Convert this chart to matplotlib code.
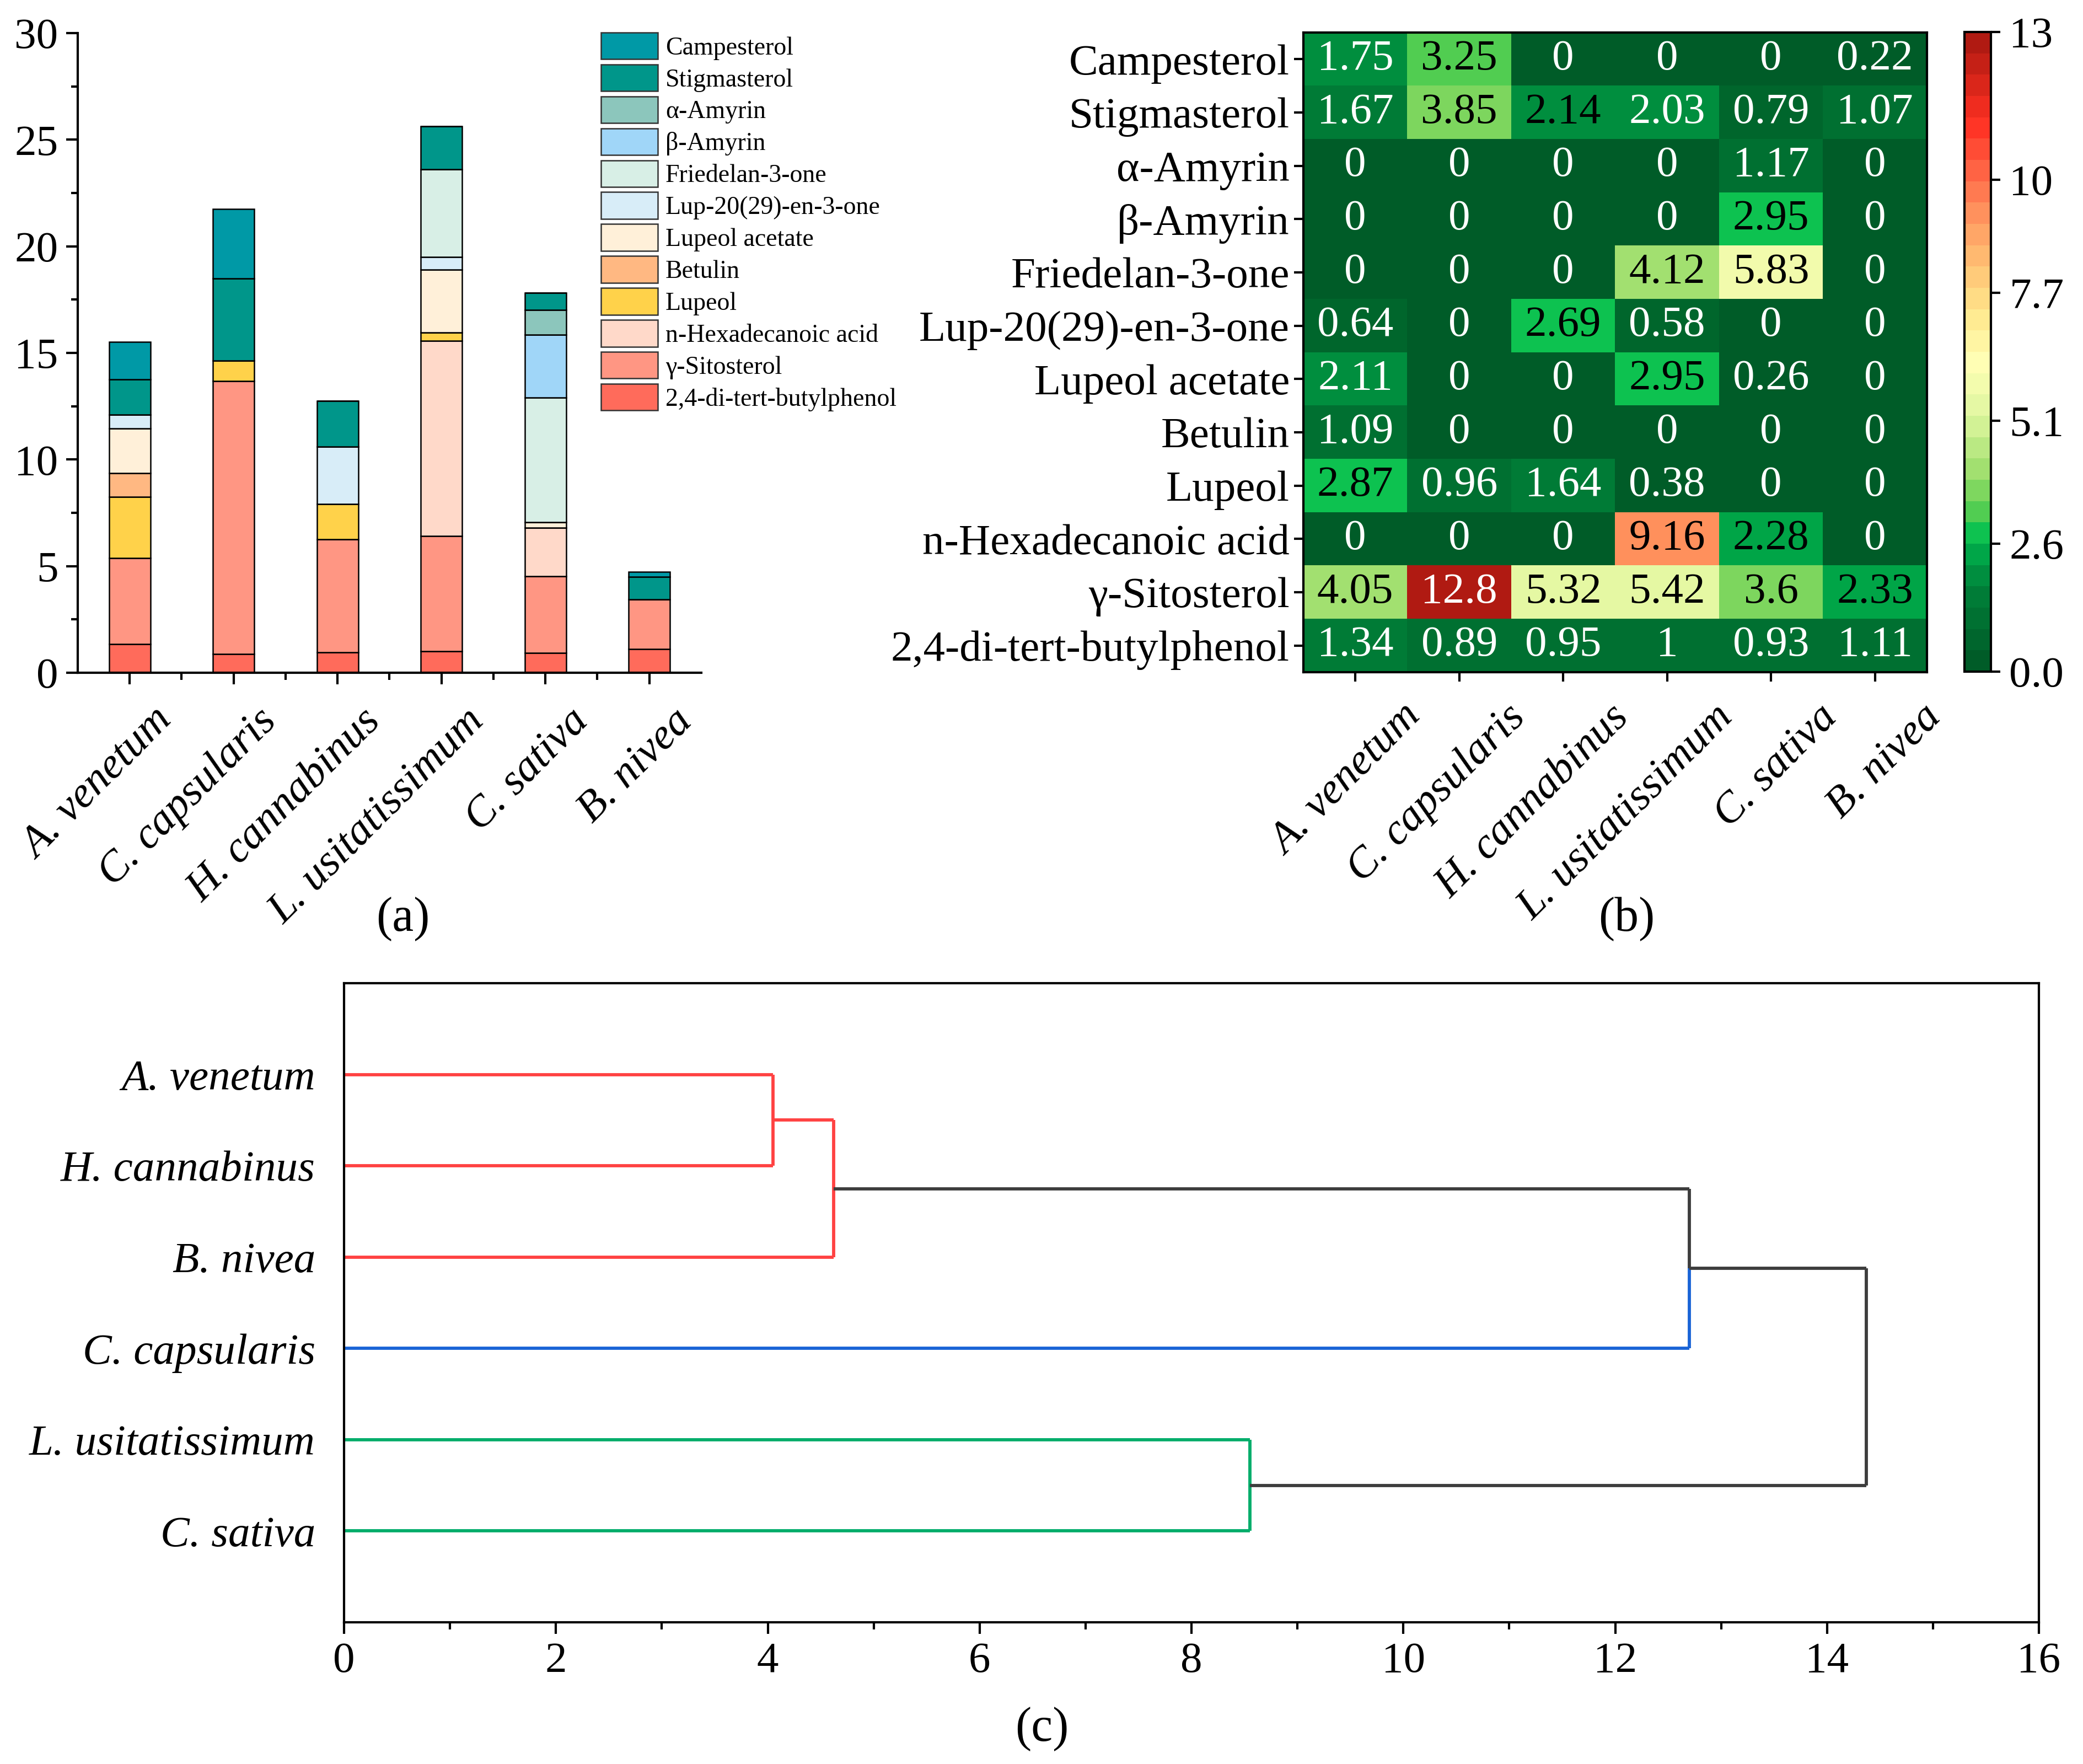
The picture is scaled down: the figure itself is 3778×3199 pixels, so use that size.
import numpy as np
import matplotlib
matplotlib.use('Agg')
import matplotlib.pyplot as plt
from matplotlib.colors import LinearSegmentedColormap
from matplotlib.patches import Patch
from matplotlib.ticker import MultipleLocator
import matplotlib.transforms as mtransforms

plt.rcParams['font.family'] = ['Liberation Serif', 'DejaVu Serif']

# ---------------- data ----------------
species = ['A. venetum', 'C. capsularis', 'H. cannabinus', 'L. usitatissimum', 'C. sativa', 'B. nivea']
compounds = ['Campesterol', 'Stigmasterol', 'α-Amyrin', 'β-Amyrin', 'Friedelan-3-one',
             'Lup-20(29)-en-3-one', 'Lupeol acetate', 'Betulin', 'Lupeol',
             'n-Hexadecanoic acid', 'γ-Sitosterol', '2,4-di-tert-butylphenol']
campesterol = [1.75, 3.25, 0, 0, 0, 0.22]
stigmasterol = [1.67, 3.85, 2.14, 2.03, 0.79, 1.07]
alpha_amyrin = [0, 0, 0, 0, 1.17, 0]
beta_amyrin = [0, 0, 0, 0, 2.95, 0]
friedelan = [0, 0, 0, 4.12, 5.83, 0]
lup20 = [0.64, 0, 2.69, 0.58, 0, 0]
lupeol_acetate = [2.11, 0, 0, 2.95, 0.26, 0]
betulin = [1.09, 0, 0, 0, 0, 0]
lupeol = [2.87, 0.96, 1.64, 0.38, 0, 0]
hexadecanoic = [0, 0, 0, 9.16, 2.28, 0]
sitosterol = [4.05, 12.8, 5.32, 5.42, 3.6, 2.33]
butylphenol = [1.34, 0.89, 0.95, 1, 0.93, 1.11]

bar_colors = ['#0099a6', '#00968a', '#8cc6bc', '#a0d6f8', '#d8efe6', '#d8edf8',
              '#fff0d9', '#ffb882', '#ffd24a', '#ffd9c9', '#ff9683', '#ff6b5b']

cbar_ticks = [0, 2.6, 5.1, 7.7, 10, 13]
cbar_ticklabels = ['0.0', '2.6', '5.1', '7.7', '10', '13']

# dendrogram (leaf order top->bottom, merges as in a linkage table)
dendro_leaves = ['A. venetum', 'H. cannabinus', 'B. nivea', 'C. capsularis', 'L. usitatissimum', 'C. sativa']
merge_a = [0, 6, 4, 7, 9]
merge_b = [1, 2, 5, 3, 8]
merge_h = [4.05, 4.62, 8.55, 12.70, 14.37]
RED, BLUE, GREEN, GREY = '#ff4242', '#1a64d6', '#00ad6a', '#3d3d3d'
branch_color = {0: RED, 1: RED, 2: RED, 3: BLUE, 4: GREEN, 5: GREEN,
                6: RED, 7: GREY, 8: GREY, 9: GREY}

data = np.array([campesterol, stigmasterol, alpha_amyrin, beta_amyrin, friedelan, lup20,
                 lupeol_acetate, betulin, lupeol, hexadecanoic, sitosterol, butylphenol])

# ---------------- figure ----------------
W, H = 3779, 3199
fig = plt.figure(figsize=(W / 300, H / 300), dpi=300)

def px_axes(x0, y0, x1, y1):
    return fig.add_axes([x0 / W, 1 - y1 / H, (x1 - x0) / W, (y1 - y0) / H])

TICK_FS = 19

# ---- panel (a) stacked bars ----
axa = px_axes(141, 60, 1272, 1220)
x = np.arange(len(species))
bottom = np.zeros(len(species))
handles = []
for i in range(len(compounds) - 1, -1, -1):
    axa.bar(x, data[i], 0.4, bottom=bottom, color=bar_colors[i], edgecolor='black', linewidth=0.6)
    bottom += data[i]
for i in range(len(compounds)):
    handles.append(Patch(facecolor=bar_colors[i], edgecolor='#333333', linewidth=0.6, label=compounds[i]))
axa.set_xlim(-0.5, 5.5)
axa.set_ylim(0, 30)
axa.yaxis.set_major_locator(MultipleLocator(5))
axa.yaxis.set_minor_locator(MultipleLocator(2.5))
axa.set_xticks(x)
axa.set_xticks(x[:-1] + 0.5, minor=True)
for s in ['top', 'right']:
    axa.spines[s].set_visible(False)
for s in ['left', 'bottom']:
    axa.spines[s].set_linewidth(1.0)
axa.tick_params(which='major', length=5, width=1.0, labelsize=TICK_FS, direction='out')
axa.tick_params(which='minor', length=3, width=1.0, direction='out')
axa.set_xticklabels(species, rotation=45, ha='right', va='top', rotation_mode='anchor',
                    fontstyle='italic')
off_a = mtransforms.ScaledTranslation(10 / 72, -4 / 72, fig.dpi_scale_trans)
for lab in axa.get_xticklabels():
    lab.set_transform(lab.get_transform() + off_a)

fig.legend(handles=handles, loc='upper left', bbox_to_anchor=(1090 / W, 1 - 59 / H),
           frameon=False, fontsize=11, handlelength=2.25, handleheight=1.25,
           labelspacing=0.18, handletextpad=0.3, borderpad=0, borderaxespad=0)

# ---- panel (b) heatmap ----
anchors = [
    (0.00, '#005c28'), (0.10, '#007a36'), (0.16, '#009a44'), (0.2, '#00c050'),
    (0.25, '#62d052'), (0.31, '#a2e070'), (0.40, '#e0f7a0'), (0.48, '#ffffb5'),
    (0.56, '#ffe98e'), (0.64, '#ffc274'), (0.71, '#ff9a62'), (0.80, '#ff5e42'),
    (0.87, '#ff3022'), (1.00, '#b01a12')]
cmap = LinearSegmentedColormap.from_list('gyr', anchors, N=30)

axb = px_axes(2364, 59, 3495, 1219)
im = axb.imshow(data, cmap=cmap, vmin=0, vmax=13, aspect='auto', interpolation='nearest')
for r in range(data.shape[0]):
    for c in range(data.shape[1]):
        v = data[r, c]
        txt = f'{v:g}'
        col = 'black' if (2.12 < v < 12) else 'white'
        axb.text(c, r, txt, ha='center', va='center', fontsize=TICK_FS, color=col)
axb.tick_params(length=4, width=1.0, labelsize=TICK_FS, pad=2)
axb.set_xticks(np.arange(len(species)))
axb.set_yticks(np.arange(len(compounds)))
axb.set_yticklabels(compounds)
axb.set_xticklabels(species, rotation=45, ha='right', va='top', rotation_mode='anchor',
                    fontstyle='italic')
off_b = mtransforms.ScaledTranslation(20 / 72, -5 / 72, fig.dpi_scale_trans)
for lab in axb.get_xticklabels():
    lab.set_transform(lab.get_transform() + off_b)
for s in axb.spines.values():
    s.set_linewidth(1.0)

cax = px_axes(3563, 58, 3611, 1218)
cb = fig.colorbar(im, cax=cax, ticks=cbar_ticks)
cb.set_ticklabels(cbar_ticklabels)
cb.outline.set_linewidth(1.0)
cax.tick_params(length=4, width=1.0, labelsize=TICK_FS, pad=4)

# ---- panel (c) dendrogram ----
axc = px_axes(624, 1783, 3698, 2942)
ypos = {i: float(i) for i in range(len(dendro_leaves))}
hpos = {i: 0.0 for i in range(len(dendro_leaves))}
for k, (a, b, h) in enumerate(zip(merge_a, merge_b, merge_h)):
    n = len(dendro_leaves) + k
    yn = (ypos[a] + ypos[b]) / 2
    for ch in (a, b):
        colr = branch_color[ch]
        axc.plot([hpos[ch], h], [ypos[ch], ypos[ch]], color=colr, lw=1.4, solid_capstyle='butt')
        axc.plot([h, h], [ypos[ch], yn], color=colr, lw=1.4, solid_capstyle='butt')
    ypos[n] = yn
    hpos[n] = h
axc.set_xlim(0, 16)
axc.set_ylim(len(dendro_leaves), -1)
axc.set_yticks(np.arange(len(dendro_leaves)))
axc.set_yticklabels(dendro_leaves, fontstyle='italic')
axc.tick_params(axis='y', length=0, pad=12.5, labelsize=TICK_FS)
axc.xaxis.set_major_locator(MultipleLocator(2))
axc.xaxis.set_minor_locator(MultipleLocator(1))
axc.tick_params(axis='x', which='major', length=5, width=1.0, labelsize=TICK_FS, direction='out')
axc.tick_params(axis='x', which='minor', length=3, width=1.0, direction='out')
for s in axc.spines.values():
    s.set_linewidth(1.0)

# panel labels
fig.text(731 / W, 1 - 1667 / H, '(a)', ha='center', va='center', fontsize=21)
fig.text(2950 / W, 1 - 1667 / H, '(b)', ha='center', va='center', fontsize=21)
fig.text(1890 / W, 1 - 3136 / H, '(c)', ha='center', va='center', fontsize=21)

fig.savefig('out.png', dpi=300)
